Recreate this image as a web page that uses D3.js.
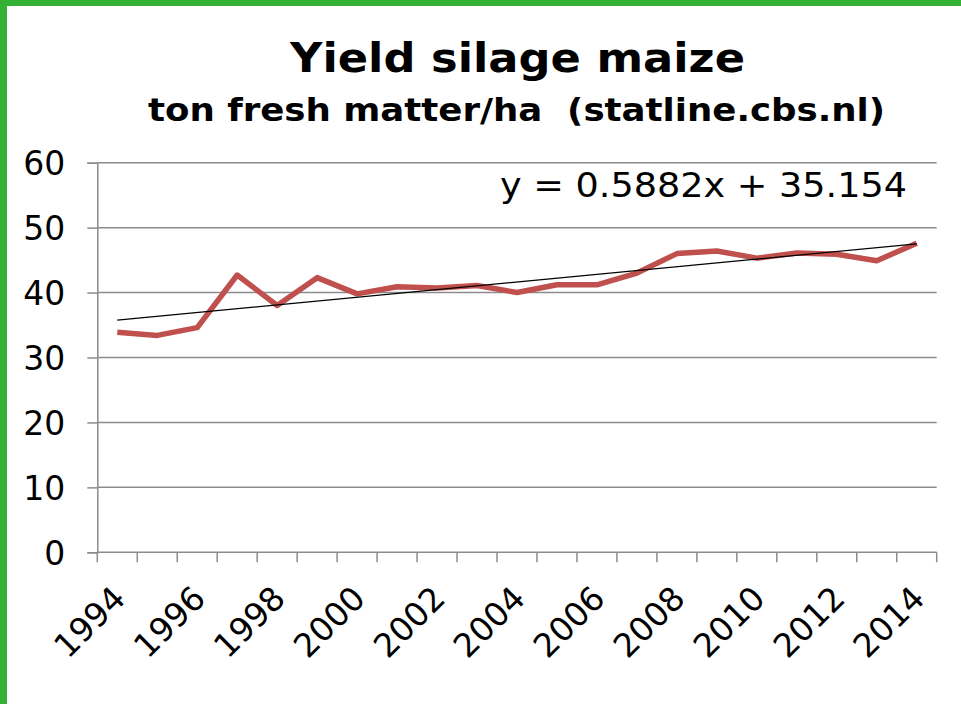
<!DOCTYPE html>
<html>
<head>
<meta charset="utf-8">
<script src="https://cdn.jsdelivr.net/npm/d3@7"></script>
<style>
    html, body { margin: 0; padding: 0; background: #fff; }
    svg { display: block; }
    text { font-family: Verdana, "DejaVu Sans", sans-serif; fill: #000; }
</style>
</head>
<body>
<div id="chart"></div>
<script>
// yield of silage maize per year (ton fresh matter/ha)
const years = [1994, 1995, 1996, 1997, 1998, 1999, 2000, 2001, 2002, 2003, 2004,
    2005, 2006, 2007, 2008, 2009, 2010, 2011, 2012, 2013, 2014];
const yieldValues = [33.9, 33.4, 34.6, 42.7, 38.0, 42.3, 39.8, 40.9, 40.7, 41.1, 40.0,
    41.2, 41.2, 43.0, 46.0, 46.4, 45.3, 46.1, 45.9, 44.9, 47.6];
const yTicks = [0, 10, 20, 30, 40, 50, 60];
const xLabelYears = [1994, 1996, 1998, 2000, 2002, 2004, 2006, 2008, 2010, 2012, 2014];

// linear trend as shown on the chart (x = 1..21)
const trendSlope = 0.5882;
const trendIntercept = 35.154;

const width = 961, height = 704;
const plot = { left: 97.3, right: 936.7, top: 162.7, bottom: 552.3 };

const svg = d3.select("#chart")
    .append("svg")
    .attr("width", width)
    .attr("height", height);

// green frame (left and top edge)
svg.append("rect").attr("x", 0).attr("y", 0).attr("width", width).attr("height", 6).attr("fill", "#34b233");
svg.append("rect").attr("x", 0).attr("y", 0).attr("width", 7).attr("height", height).attr("fill", "#34b233");

const x = d3.scaleBand()
    .domain(years)
    .range([plot.left, plot.right])
    .padding(0);

const y = d3.scaleLinear()
    .domain([0, 60])
    .range([plot.bottom, plot.top]);

const xMid = d => x(d) + x.bandwidth() / 2;

// titles (Verdana is wider than the fallback font, so stretch to the same width)
svg.append("text")
    .attr("x", 290)
    .attr("y", 72)
    .attr("textLength", 455)
    .attr("lengthAdjust", "spacingAndGlyphs")
    .style("font-size", "41px")
    .style("font-weight", "bold")
    .text("Yield silage maize");

svg.append("text")
    .attr("x", 148)
    .attr("y", 121)
    .attr("textLength", 737)
    .attr("lengthAdjust", "spacingAndGlyphs")
    .style("font-size", "32px")
    .style("font-weight", "bold")
    .style("white-space", "pre")
    .text("ton fresh matter/ha  (statline.cbs.nl)");

// horizontal gridlines
svg.append("g")
    .selectAll("line")
    .data(yTicks.filter(t => t > 0))
    .enter()
    .append("line")
    .attr("x1", plot.left)
    .attr("x2", plot.right)
    .attr("y1", d => y(d))
    .attr("y2", d => y(d))
    .attr("stroke", "#8c8c8c")
    .attr("stroke-width", 1.5);

// y axis
const yAxis = svg.append("g")
    .attr("transform", `translate(${plot.left},0)`)
    .call(d3.axisLeft(y).tickValues(yTicks).tickSize(10).tickPadding(22));
yAxis.select(".domain").attr("stroke", "#8c8c8c").attr("stroke-width", 1.5);
yAxis.selectAll(".tick line").attr("stroke", "#8c8c8c").attr("stroke-width", 1.5);
yAxis.selectAll(".tick text")
    .style("font-size", "33px")
    .style("font-family", "Verdana, 'DejaVu Sans', sans-serif")
    .attr("dy", "0.36em");

// x axis: baseline, ticks at band edges
svg.append("line")
    .attr("x1", plot.left)
    .attr("x2", plot.right)
    .attr("y1", plot.bottom)
    .attr("y2", plot.bottom)
    .attr("stroke", "#8c8c8c")
    .attr("stroke-width", 1.5);

const edges = years.map(d => x(d)).concat([x(years[years.length - 1]) + x.bandwidth()]);
svg.append("g")
    .selectAll("line")
    .data(edges)
    .enter()
    .append("line")
    .attr("x1", d => d)
    .attr("x2", d => d)
    .attr("y1", plot.bottom)
    .attr("y2", plot.bottom + 10)
    .attr("stroke", "#8c8c8c")
    .attr("stroke-width", 1.5);

svg.append("g")
    .selectAll("text")
    .data(xLabelYears)
    .enter()
    .append("text")
    .attr("text-anchor", "end")
    .style("font-size", "33px")
    .attr("transform", d => `translate(${xMid(d) + 10},${plot.bottom + 48}) rotate(-45)`)
    .text(d => d);

// data line
const line = d3.line()
    .x((d, i) => xMid(years[i]))
    .y(d => y(d));

svg.append("path")
    .datum(yieldValues)
    .attr("fill", "none")
    .attr("stroke", "#c0504d")
    .attr("stroke-width", 5.5)
    .attr("stroke-linejoin", "round")
    .attr("d", line);

// trendline
const trendPoints = [1, years.length].map(n => ({ year: years[n - 1], value: trendSlope * n + trendIntercept }));
svg.append("line")
    .attr("x1", xMid(trendPoints[0].year))
    .attr("y1", y(trendPoints[0].value))
    .attr("x2", xMid(trendPoints[1].year))
    .attr("y2", y(trendPoints[1].value))
    .attr("stroke", "#000")
    .attr("stroke-width", 1.2);

svg.append("text")
    .attr("x", 500)
    .attr("y", 197)
    .attr("textLength", 407)
    .attr("lengthAdjust", "spacingAndGlyphs")
    .style("font-size", "34px")
    .text(`y = ${trendSlope}x + ${trendIntercept}`);
</script>
</body>
</html>
